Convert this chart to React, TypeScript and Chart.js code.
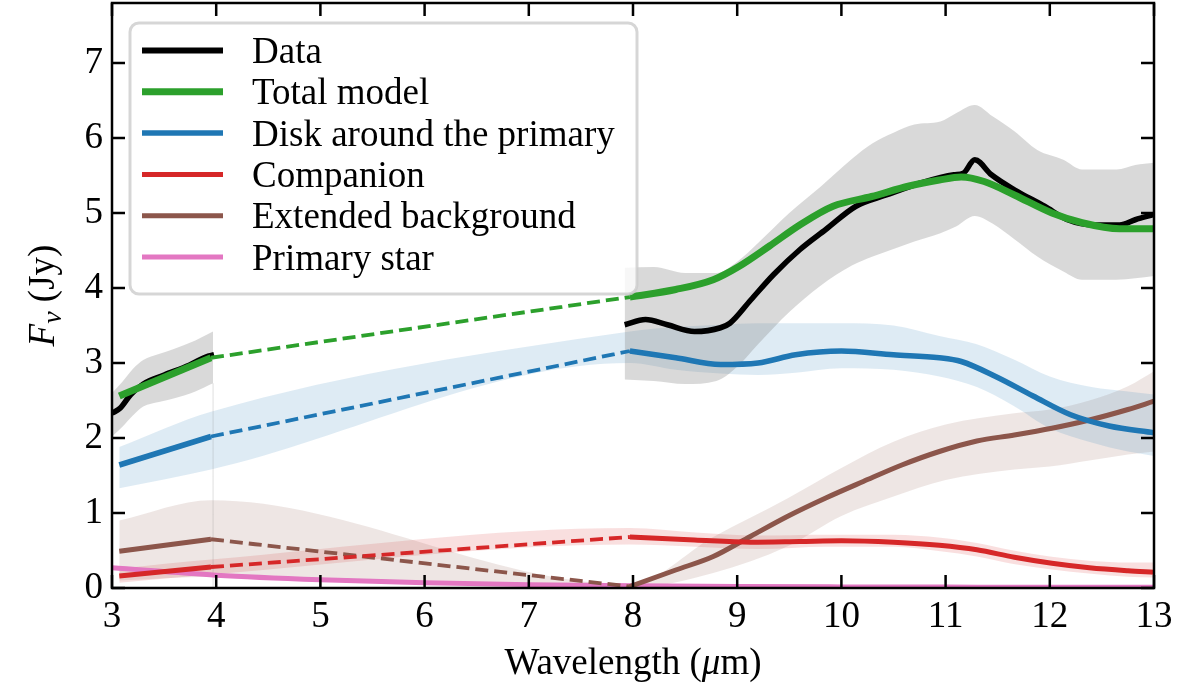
import { useEffect, useRef } from "react"
import Chart from "chart.js/auto"

const SERIF = '"Liberation Serif", "Times New Roman", "DejaVu Serif", serif'

// axes
const xTicks = [3, 4, 5, 6, 7, 8, 9, 10, 11, 12, 13]
const yTicks = [0, 1, 2, 3, 4, 5, 6, 7]
const xRange = [3, 13]
const yRange = [0, 7.8]

const legendLabels = [
  "Data",
  "Total model",
  "Disk around the primary",
  "Companion",
  "Extended background",
  "Primary star",
]

// observed spectrum, two windows (µm, Jy)
const dataX1 = [3.0, 3.08, 3.18, 3.3, 3.5, 3.74, 3.9, 3.98]
const dataY1 = [2.33, 2.4, 2.58, 2.72, 2.84, 2.97, 3.08, 3.11]
const dataX2 = [7.92, 8.12, 8.33, 8.59, 8.84, 8.93, 9.13, 9.35, 9.6, 9.85, 10.14, 10.43, 10.76, 11.08, 11.17, 11.28, 11.44, 11.66, 11.95, 12.17, 12.42, 12.67, 12.82, 13.0]
const dataY2 = [3.51, 3.58, 3.51, 3.42, 3.47, 3.53, 3.84, 4.18, 4.51, 4.78, 5.09, 5.24, 5.4, 5.51, 5.53, 5.71, 5.51, 5.31, 5.09, 4.91, 4.84, 4.84, 4.91, 4.98]

// data uncertainty
const dataBandX1 = [3.0, 3.1, 3.2, 3.3, 3.45, 3.6, 3.8, 3.97]
const dataHi1 = [2.6, 2.75, 2.92, 3.04, 3.12, 3.19, 3.3, 3.42]
const dataLo1 = [2.02, 2.15, 2.3, 2.42, 2.48, 2.53, 2.62, 2.73]
const dataBandX2 = [7.92, 8.2, 8.5, 8.8, 9.0, 9.2, 9.5, 9.8, 10.1, 10.3, 10.5, 10.7, 10.95, 11.1, 11.28, 11.45, 11.66, 11.88, 12.13, 12.31, 12.64, 12.82, 13.0]
const dataHi2 = [4.27, 4.28, 4.2, 4.2, 4.35, 4.6, 5.0, 5.35, 5.72, 5.93, 6.07, 6.18, 6.22, 6.33, 6.44, 6.29, 6.09, 5.84, 5.71, 5.58, 5.58, 5.64, 5.67]
const dataLo2 = [2.78, 2.76, 2.72, 2.76, 2.95, 3.25, 3.68, 4.03, 4.3, 4.42, 4.52, 4.62, 4.73, 4.82, 4.96, 4.86, 4.65, 4.42, 4.22, 4.11, 4.11, 4.13, 4.16]

// faint edge of the first band
const edgeX = [3.97, 3.97]
const edgeY = [0, 2.73]

// model components, short window
const modelX1 = [3.07, 3.95]
const totalY1 = [2.56, 3.07]
const diskY1 = [1.64, 2.02]
const compY1 = [0.16, 0.28]
const bkgY1 = [0.49, 0.65]

// model components, long window
const totalX2 = [7.97, 8.41, 8.77, 9.02, 9.31, 9.6, 9.92, 10.29, 10.65, 10.94, 11.15, 11.37, 11.66, 12.02, 12.31, 12.67, 13.0]
const totalY2 = [3.88, 3.98, 4.11, 4.29, 4.56, 4.84, 5.09, 5.22, 5.36, 5.44, 5.48, 5.42, 5.24, 5.0, 4.87, 4.79, 4.79]
const diskX2 = [7.97, 8.41, 8.84, 9.2, 9.56, 10.0, 10.5, 10.94, 11.15, 11.48, 11.84, 12.2, 12.57, 13.0]
const diskY2 = [3.16, 3.07, 2.98, 3.0, 3.11, 3.16, 3.11, 3.07, 3.02, 2.82, 2.56, 2.31, 2.16, 2.07]
const compX2 = [7.97, 8.59, 9.13, 9.6, 10.0, 10.5, 10.94, 11.3, 11.66, 12.02, 12.38, 12.75, 13.0]
const compY2 = [0.68, 0.64, 0.61, 0.62, 0.63, 0.61, 0.57, 0.51, 0.41, 0.33, 0.27, 0.23, 0.21]
const bkgX2 = [7.97, 8.41, 8.77, 9.13, 9.49, 9.85, 10.21, 10.58, 10.94, 11.3, 11.66, 12.02, 12.38, 12.75, 13.0]
const bkgY2 = [0.02, 0.24, 0.42, 0.69, 0.96, 1.2, 1.42, 1.64, 1.82, 1.96, 2.04, 2.13, 2.24, 2.38, 2.49]
const starX = [3.0, 4, 5, 6, 7, 8, 9, 10, 11, 12, 13]
const starY = [0.27, 0.17, 0.11, 0.07, 0.045, 0.03, 0.02, 0.015, 0.012, 0.01, 0.01]

// model uncertainties
const diskBandX = [3.07, 3.95, 7.97, 8.41, 8.84, 9.2, 9.56, 10.0, 10.5, 10.94, 11.3, 11.65, 12.0, 12.4, 12.75, 13.0]
const diskHi = [1.88, 2.35, 3.42, 3.48, 3.51, 3.53, 3.53, 3.53, 3.5, 3.36, 3.25, 3.05, 2.82, 2.68, 2.62, 2.58]
const diskLo = [1.33, 1.58, 3.0, 2.91, 2.86, 2.84, 2.87, 2.93, 2.91, 2.82, 2.68, 2.43, 2.13, 1.94, 1.82, 1.76]
const compBandX = [3.07, 3.95, 7.97, 8.6, 9.2, 9.85, 10.5, 10.95, 11.3, 11.65, 12.0, 12.4, 12.75, 13.0]
const compHi = [0.26, 0.38, 0.8, 0.74, 0.7, 0.71, 0.71, 0.67, 0.6, 0.5, 0.42, 0.36, 0.34, 0.34]
const compLo = [0.07, 0.18, 0.58, 0.55, 0.52, 0.55, 0.55, 0.49, 0.42, 0.32, 0.25, 0.19, 0.15, 0.14]
const bkgBandX = [3.07, 3.95, 7.97, 8.77, 9.49, 10.0, 10.5, 11.0, 11.66, 12.0, 12.38, 12.75, 13.0]
const bkgHi = [0.9, 1.17, 0.05, 0.68, 1.2, 1.6, 1.95, 2.18, 2.33, 2.38, 2.5, 2.69, 2.89]
const bkgLo = [0.1, 0.15, 0.0, 0.2, 0.56, 0.96, 1.22, 1.44, 1.58, 1.62, 1.7, 1.78, 1.82]

const C = {
  data: "#000000",
  total: "#2ca02c",
  disk: "#1f77b4",
  comp: "#d62728",
  bkg: "#8c564b",
  star: "#e377c2",
}
const legendStyle = [
  { color: C.data, width: 6 },
  { color: C.total, width: 7 },
  { color: C.disk, width: 5.5 },
  { color: C.comp, width: 5 },
  { color: C.bkg, width: 5 },
  { color: C.star, width: 5 },
]
const DASH = [13, 6]

const pts = (xs: number[], ys: number[]) => xs.map((x, i) => ({ x, y: ys[i] }))

function buildDatasets() {
  const ds: any[] = []
  const band = (xs: number[], hi: number[], lo: number[], color: string) => {
    const i = ds.length
    const base = { borderWidth: 0, borderColor: "transparent", pointRadius: 0, cubicInterpolationMode: "monotone", order: 20, clip: 0 }
    ds.push({ ...base, data: pts(xs, hi), backgroundColor: color, fill: { target: i + 1, above: color, below: color } })
    ds.push({ ...base, data: pts(xs, lo), fill: false })
  }
  const line = (xs: number[], ys: number[], color: string, width: number, order: number, dashed = false) =>
    ds.push({
      data: pts(xs, ys),
      borderColor: color,
      backgroundColor: color,
      borderWidth: width,
      borderDash: dashed ? DASH : [],
      borderJoinStyle: "round",
      borderCapStyle: "butt",
      pointRadius: 0,
      fill: false,
      cubicInterpolationMode: "monotone",
      order,
      clip: 0,
    })
  // dashed link between the two windows
  const gap = (ys1: number[], xs2: number[], ys2: number[], color: string, order: number) =>
    line([modelX1[modelX1.length - 1], xs2[0]], [ys1[ys1.length - 1], ys2[0]], color, 3.8, order, true)

  band(dataBandX1, dataHi1, dataLo1, "rgba(128,128,128,0.3)")
  band(dataBandX2, dataHi2, dataLo2, "rgba(128,128,128,0.3)")
  band(diskBandX, diskHi, diskLo, "rgba(31,119,180,0.15)")
  band(bkgBandX, bkgHi, bkgLo, "rgba(140,86,75,0.15)")
  band(compBandX, compHi, compLo, "rgba(214,39,40,0.15)")
  line(edgeX, edgeY, "rgba(128,128,128,0.25)", 1, 19)

  line(dataX1, dataY1, C.data, 5.5, 2)
  line(dataX2, dataY2, C.data, 5.5, 2)
  line(modelX1, totalY1, C.total, 7, 1)
  line(totalX2, totalY2, C.total, 7, 1)
  gap(totalY1, totalX2, totalY2, C.total, 1)
  line(modelX1, diskY1, C.disk, 5.5, 3)
  line(diskX2, diskY2, C.disk, 5.5, 3)
  gap(diskY1, diskX2, diskY2, C.disk, 3)
  line(modelX1, compY1, C.comp, 5, 4)
  line(compX2, compY2, C.comp, 5, 4)
  gap(compY1, compX2, compY2, C.comp, 4)
  line(modelX1, bkgY1, C.bkg, 5, 5)
  line(bkgX2, bkgY2, C.bkg, 5, 5)
  gap(bkgY1, bkgX2, bkgY2, C.bkg, 5)
  line(starX, starY, C.star, 5, 6)
  return ds
}

const drawRuns = (ctx: CanvasRenderingContext2D, runs: { t: string; f: string; dy?: number }[], x: number, y: number) => {
  let cx = x
  for (const r of runs) {
    ctx.font = r.f
    ctx.fillText(r.t, cx, y + (r.dy ?? 0))
    cx += ctx.measureText(r.t).width
  }
}
const runsWidth = (ctx: CanvasRenderingContext2D, runs: { t: string; f: string }[]) =>
  runs.reduce((w, r) => {
    ctx.font = r.f
    return w + ctx.measureText(r.t).width
  }, 0)

const framePlugin = {
  id: "frame",
  afterDraw(chart: any) {
    const { ctx, chartArea: a, scales } = chart
    ctx.save()
    ctx.strokeStyle = "#000"
    ctx.lineWidth = 2.5
    ctx.beginPath()
    for (const v of xTicks) {
      const px = scales.x.getPixelForValue(v)
      ctx.moveTo(px, a.bottom)
      ctx.lineTo(px, a.bottom - 13)
      ctx.moveTo(px, a.top)
      ctx.lineTo(px, a.top + 13)
    }
    for (const v of yTicks) {
      const py = scales.y.getPixelForValue(v)
      ctx.moveTo(a.left, py)
      ctx.lineTo(a.left + 13, py)
      ctx.moveTo(a.right, py)
      ctx.lineTo(a.right - 13, py)
    }
    ctx.stroke()
    ctx.strokeRect(a.left, a.top, a.right - a.left, a.bottom - a.top)

    // axis titles
    ctx.fillStyle = "#000"
    ctx.textBaseline = "alphabetic"
    ctx.textAlign = "left"
    const xRuns = [
      { t: "Wavelength (", f: `37px ${SERIF}` },
      { t: "\u03bc", f: `italic 37px ${SERIF}` },
      { t: "m)", f: `37px ${SERIF}` },
    ]
    drawRuns(ctx, xRuns, (a.left + a.right) / 2 - runsWidth(ctx, xRuns) / 2, a.bottom + 86)
    const yRuns = [
      { t: "F", f: `italic 37px ${SERIF}` },
      { t: "\u03bd", f: `italic 28px ${SERIF}`, dy: 7 },
      { t: " (Jy)", f: `37px ${SERIF}` },
    ]
    ctx.translate(a.left - 70, (a.top + a.bottom) / 2)
    ctx.rotate(-Math.PI / 2)
    drawRuns(ctx, yRuns, -runsWidth(ctx, yRuns) / 2, 12)
    ctx.restore()
  },
}

const legendPlugin = {
  id: "boxLegend",
  afterDatasetsDraw(chart: any) {
    const { ctx, chartArea: a } = chart
    const left = a.left + 18
    const top = a.top + 20
    ctx.save()
    ctx.beginPath()
    ctx.roundRect(left, top, 507, 271, 9)
    ctx.fillStyle = "rgba(255,255,255,0.8)"
    ctx.fill()
    ctx.lineWidth = 3
    ctx.strokeStyle = "rgba(204,204,204,0.8)"
    ctx.stroke()
    ctx.font = `37px ${SERIF}`
    ctx.textBaseline = "alphabetic"
    ctx.textAlign = "left"
    legendLabels.forEach((label, i) => {
      const y = top + 27.5 + i * 41.3
      ctx.beginPath()
      ctx.strokeStyle = legendStyle[i].color
      ctx.lineWidth = legendStyle[i].width
      ctx.moveTo(left + 12, y)
      ctx.lineTo(left + 93, y)
      ctx.stroke()
      ctx.fillStyle = "#000"
      ctx.fillText(label, left + 122, y + 12.5)
    })
    ctx.restore()
  },
}

export default function App() {
  const canvasRef = useRef<HTMLCanvasElement>(null)
  const chartRef = useRef<Chart | null>(null)

  useEffect(() => {
    if (!canvasRef.current) return
    if (chartRef.current) chartRef.current.destroy()

    const tickFont = { family: SERIF, size: 37, lineHeight: 1.2 }
    chartRef.current = new Chart(canvasRef.current, {
      type: "line",
      data: { datasets: buildDatasets() },
      options: {
        animation: false,
        responsive: false,
        maintainAspectRatio: false,
        layout: { padding: { left: 0, right: 46, top: 3, bottom: 0 } },
        plugins: {
          legend: { display: false },
          tooltip: { enabled: false },
          filler: { drawTime: "beforeDatasetsDraw" },
        } as any,
        scales: {
          x: {
            type: "linear",
            min: xRange[0],
            max: xRange[1],
            grid: { display: false, drawTicks: false },
            border: { display: false },
            afterBuildTicks: (s: any) => {
              s.ticks = xTicks.map((value) => ({ value }))
            },
            afterFit: (s: any) => {
              s.height = 96
              s.paddingLeft = 0
              s.paddingRight = 0
            },
            ticks: { font: tickFont, color: "#000", padding: 7, maxRotation: 0, autoSkip: false },
          },
          y: {
            type: "linear",
            min: yRange[0],
            max: yRange[1],
            grid: { display: false, drawTicks: false },
            border: { display: false },
            afterBuildTicks: (s: any) => {
              s.ticks = yTicks.map((value) => ({ value }))
            },
            afterFit: (s: any) => {
              s.width = 112
              s.paddingTop = 0
              s.paddingBottom = 0
            },
            ticks: { font: tickFont, color: "#000", padding: 9, autoSkip: false },
          },
        },
      },
      plugins: [legendPlugin, framePlugin],
    })

    return () => {
      if (chartRef.current) {
        chartRef.current.destroy()
        chartRef.current = null
      }
    }
  }, [])

  return (
    <div style={{ position: "absolute", left: 0, top: 0, width: 1200, height: 684, background: "#fff" }}>
      <canvas ref={canvasRef} width={1200} height={684} style={{ display: "block" }} />
    </div>
  )
}
